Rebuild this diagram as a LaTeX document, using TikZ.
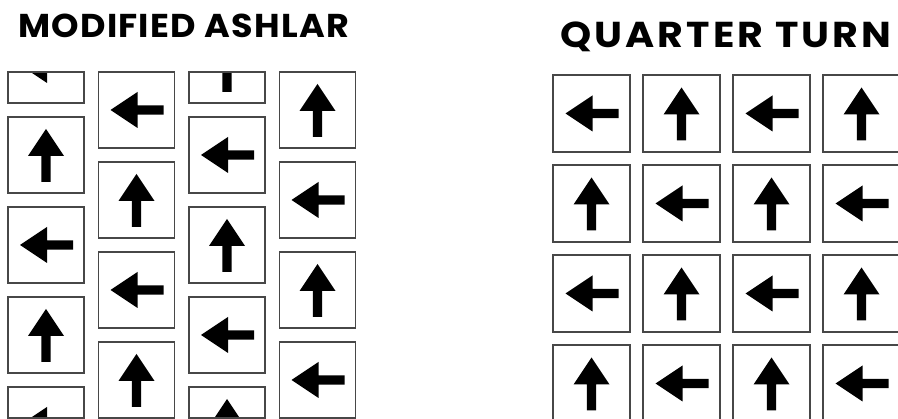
\documentclass[tikz,border=0pt]{standalone}
\usepackage{fontspec}
\newfontfamily\titlefont{Poppins}
\tikzset{
  tile/.style={draw=black!72, line width=1.4pt, fill=white},
  arr/.pic={\fill (0,-26) -- (18,1) -- (4.7,1) -- (4.7,27) -- (-4.7,27) -- (-4.7,1) -- (-18,1) -- cycle;},
  heading/.style={anchor=base west, inner sep=0pt, font=\titlefont\bfseries\fontsize{33}{33}\selectfont}
}
\begin{document}
\begin{tikzpicture}[x=1pt, y=-1pt]
	\useasboundingbox (0,0) rectangle (898,419);
	\clip (0,0) rectangle (898,419);

	% titles
	\node[heading, xscale=1.06] (ashlar) at (18,38) {\addfontfeature{LetterSpace=3.6}MODIFIED ASHLAR};
	\node[heading, xscale=1.1, font=\titlefont\bfseries\fontsize{36}{36}\selectfont] (quarter) at (560,47.5) {\addfontfeature{LetterSpace=7.8}QUARTER TURN};

	% modified ashlar: columns shifted by half a tile
	\begin{scope}
		\clip (0,71.3) rectangle (450,418.7);
		\foreach \c in {0,...,3}{
			\pgfmathsetmacro{\xa}{8+90.5*\c}
			\pgfmathtruncatemacro{\half}{int(\c/2)}
			\pgfmathsetmacro{\ya}{mod(\c,2)==1 ? 72 : 27}
			\foreach \k in {0,...,4}{
				\pgfmathsetmacro{\yb}{\ya+90*\k}
				\pgfmathsetmacro{\r}{90*(1-mod(\k+\half,2))}
				\draw[tile] (\xa,\yb) rectangle ++(76,76);
				\pic[rotate=\r] at (\xa+38,\yb+38) {arr};
			}
			\draw[tile] (\xa,72) -- ++(76,0);
			\draw[tile] (\xa,418) -- ++(76,0);
		}
	\end{scope}

	% quarter turn: plain grid
	\foreach \i in {0,...,3}{
		\foreach \j in {0,...,3}{
			\pgfmathsetmacro{\r}{90*(1-mod(\i+\j,2))}
			\draw[tile] (553+90*\i,75+90*\j) rectangle ++(77,77);
			\pic[rotate=\r] at (591.5+90*\i,113.5+90*\j) {arr};
		}
	}
\end{tikzpicture}
\end{document}
